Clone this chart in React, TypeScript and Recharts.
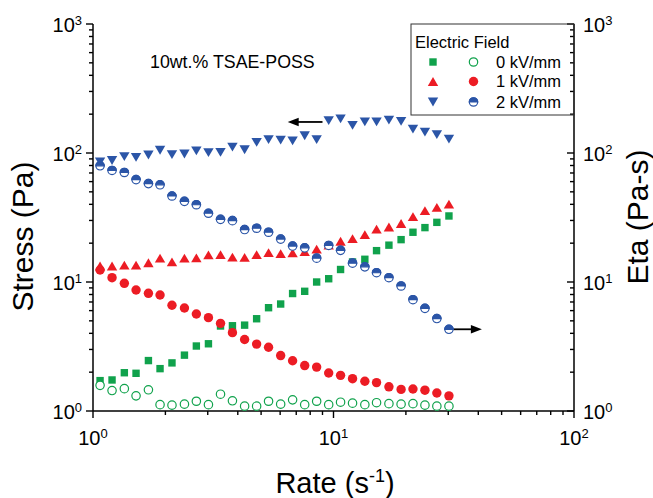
import React from 'react';
import { ScatterChart, Scatter, XAxis, YAxis, ReferenceLine } from 'recharts';

const FONT = "'Liberation Sans', Arial, Helvetica, sans-serif";
const GREEN = '#10a24c';
const RED = '#ec1c24';
const BLUE = '#2b55a7';

// shear rate (s^-1)
const rates = [1.07, 1.2, 1.35, 1.51, 1.7, 1.9, 2.13, 2.4, 2.69, 3.02, 3.39, 3.8, 4.27, 4.79, 5.37, 6.03, 6.76, 7.59, 8.51, 9.55, 10.7, 12.0, 13.5, 15.1, 17.0, 19.1, 21.4, 24.0, 26.9, 30.2];

// 0 kV/mm
const stress0 = [1.72, 1.74, 1.98, 1.96, 2.46, 2.13, 2.36, 2.71, 3.19, 3.32, 4.56, 4.58, 4.63, 5.19, 6.32, 6.75, 8.14, 8.47, 10.0, 10.6, 12.5, 14.3, 15.0, 17.5, 19.3, 21.3, 24.3, 26.4, 29.0, 32.5];
const eta0 = [1.58, 1.44, 1.49, 1.31, 1.46, 1.12, 1.11, 1.13, 1.19, 1.12, 1.35, 1.2, 1.09, 1.09, 1.19, 1.13, 1.22, 1.12, 1.19, 1.12, 1.17, 1.15, 1.12, 1.16, 1.14, 1.13, 1.14, 1.11, 1.09, 1.09];
// 1 kV/mm
const stress1 = [13.3, 13.3, 13.5, 13.5, 14.1, 15.3, 14.3, 15.3, 15.4, 16.2, 16.3, 15.6, 15.5, 16.3, 16.9, 16.6, 16.8, 17.2, 18.0, 19.3, 20.7, 21.7, 23.3, 25.7, 26.7, 28.4, 32.1, 35.7, 37.9, 40.2];
const eta1 = [12.4, 10.8, 9.77, 8.67, 8.17, 7.93, 6.6, 6.29, 5.65, 5.29, 4.78, 4.05, 3.58, 3.3, 3.12, 2.69, 2.45, 2.25, 2.19, 1.97, 1.89, 1.78, 1.7, 1.66, 1.54, 1.47, 1.48, 1.45, 1.38, 1.31];
// 2 kV/mm
const stress2 = [85.2, 87.5, 93.6, 92.6, 96.5, 105, 97.0, 98.2, 104, 100.5, 101, 111, 106, 121, 127, 126, 124, 136, 127, 178, 184, 164, 174, 174, 180, 176, 153, 145, 139, 128];
const eta2 = [79.6, 73.2, 70.6, 62.2, 57.9, 56.7, 46.4, 42.2, 39.7, 34.1, 30.6, 29.9, 25.5, 26.1, 24.3, 21.5, 19.0, 18.4, 15.3, 19.2, 17.6, 14.0, 13.1, 11.8, 10.8, 9.31, 7.29, 6.25, 5.21, 4.3];

const legendLabels = ['0 kV/mm', '1 kV/mm', '2 kV/mm'];
const legendTitle = 'Electric Field';
const annotation = '10wt.% TSAE-POSS';

const xTicks = [1, 2, 3, 4, 5, 6, 7, 8, 9, 10, 20, 30, 40, 50, 60, 70, 80, 90, 100];
const yTicks = [1, 2, 3, 4, 5, 6, 7, 8, 9, 10, 20, 30, 40, 50, 60, 70, 80, 90, 100, 200, 300, 400, 500, 600, 700, 800, 900, 1000];
const majorValues = [1, 10, 100, 1000];
const majorExponents = ['0', '1', '2', '3'];

// arrow annotations (data coordinates)
const arrowStress = { from: 9.0, to: 6.45, y: 174 };
const arrowEta = { from: 30.2, to: 41.4, y: 4.3 };

const toPoints = (ys: number[]) => rates.map((x, i) => ({ x, y: ys[i] }));

const isMajor = (v: number) => majorValues.indexOf(v) >= 0;
const expOf = (v: number) => majorExponents[majorValues.indexOf(v)];

const TICK_W = 1.4;

const LeftTick = (p: any) => {
  const { x, y, payload } = p;
  const v = payload.value;
  const m = isMajor(v);
  return (
    <g>
      <line x1={x} y1={y} x2={x - (m ? 7 : 4)} y2={y} stroke="#000" strokeWidth={TICK_W} />
      {m && (
        <text x={x - 11} y={y + 8} textAnchor="end" fontSize={20} fontFamily={FONT} fill="#000">
          10<tspan dy={-7} fontSize={13}>{expOf(v)}</tspan>
        </text>
      )}
    </g>
  );
};

const RightTick = (p: any) => {
  const { x, y, payload } = p;
  const v = payload.value;
  const m = isMajor(v);
  return (
    <g>
      <line x1={x} y1={y} x2={x - (m ? 7 : 4)} y2={y} stroke="#000" strokeWidth={TICK_W} />
      {m && (
        <text x={x + 9} y={y + 8} textAnchor="start" fontSize={20} fontFamily={FONT} fill="#000">
          10<tspan dy={-7} fontSize={13}>{expOf(v)}</tspan>
        </text>
      )}
    </g>
  );
};

const BottomTick = (p: any) => {
  const { x, y, payload } = p;
  const v = payload.value;
  const m = isMajor(v);
  return (
    <g>
      <line x1={x} y1={y} x2={x} y2={y + (m ? 7 : 4)} stroke="#000" strokeWidth={TICK_W} />
      {m && (
        <text x={x} y={y + 34} textAnchor="middle" fontSize={20} fontFamily={FONT} fill="#000">
          10<tspan dy={-7} fontSize={13}>{expOf(v)}</tspan>
        </text>
      )}
    </g>
  );
};

const TopTick = (p: any) => {
  const { x, y, payload } = p;
  const m = isMajor(payload.value);
  return <line x1={x} y1={y} x2={x} y2={y + (m ? 8 : 5)} stroke="#000" strokeWidth={TICK_W} />;
};

// marker shapes
const Square = ({ cx, cy }: any) => <rect x={cx - 3.7} y={cy - 3.7} width={7.4} height={7.4} fill={GREEN} />;
const OpenCircle = ({ cx, cy }: any) => <circle cx={cx} cy={cy} r={4.2} fill="#fff" stroke={GREEN} strokeWidth={1.2} />;
const UpTri = ({ cx, cy }: any) => (
  <polygon points={`${cx - 5.2},${cy + 4.4} ${cx + 5.2},${cy + 4.4} ${cx},${cy - 4.4}`} fill={RED} />
);
const FilledCircle = ({ cx, cy }: any) => <circle cx={cx} cy={cy} r={4.7} fill={RED} />;
const DownTri = ({ cx, cy }: any) => (
  <polygon points={`${cx - 5.2},${cy - 4.4} ${cx + 5.2},${cy - 4.4} ${cx},${cy + 4.4}`} fill={BLUE} />
);
const HalfCircle = ({ cx, cy }: any) => {
  const r = 4.2;
  return (
    <g>
      <circle cx={cx} cy={cy} r={r} fill="#fff" stroke={BLUE} strokeWidth={1.2} />
      <path d={`M ${cx - r} ${cy} A ${r} ${r} 0 0 1 ${cx + r} ${cy} Z`} fill={BLUE} stroke={BLUE} strokeWidth={1.2} />
    </g>
  );
};

const Arrow = (p: any) => {
  const { x1, y1, x2, y2 } = p;
  const dir = x2 > x1 ? 1 : -1;
  const head = 11;
  return (
    <g>
      <line x1={x1} y1={y1} x2={x2 - dir * head * 0.8} y2={y2} stroke="#000" strokeWidth={1.8} />
      <polygon points={`${x2},${y2} ${x2 - dir * head},${y2 - 4.2} ${x2 - dir * head},${y2 + 4.2}`} fill="#000" />
    </g>
  );
};

const legendRows = [
  { filled: Square, open: OpenCircle, label: legendLabels[0], y: 62 },
  { filled: UpTri, open: FilledCircle, label: legendLabels[1], y: 81.5 },
  { filled: DownTri, open: HalfCircle, label: legendLabels[2], y: 102 },
];

export default function App() {
  const axisLine = { stroke: '#000', strokeWidth: 1.5 };
  return (
    <div style={{ position: 'absolute', left: 0, top: 0, width: 653, height: 498, background: '#fff' }}>
      <ScatterChart width={653} height={498} margin={{ top: 24, right: 0, bottom: 0, left: 0 }}>
        <XAxis
          xAxisId="x"
          dataKey="x"
          type="number"
          scale="log"
          domain={[1, 100]}
          allowDataOverflow
          ticks={xTicks}
          interval={0}
          height={87}
          tickLine={false}
          tickSize={0}
          tickMargin={0}
          axisLine={axisLine}
          tick={<BottomTick />}
        />
        <XAxis
          xAxisId="xt"
          orientation="top"
          dataKey="x"
          type="number"
          scale="log"
          domain={[1, 100]}
          allowDataOverflow
          ticks={xTicks}
          interval={0}
          height={0}
          tickLine={false}
          tickSize={0}
          tickMargin={0}
          axisLine={axisLine}
          tick={<TopTick />}
        />
        <YAxis
          yAxisId="stress"
          dataKey="y"
          type="number"
          scale="log"
          domain={[1, 1000]}
          allowDataOverflow
          ticks={yTicks}
          interval={0}
          width={93}
          tickLine={false}
          tickSize={0}
          tickMargin={0}
          axisLine={axisLine}
          tick={<LeftTick />}
        />
        <YAxis
          yAxisId="eta"
          orientation="right"
          dataKey="y"
          type="number"
          scale="log"
          domain={[1, 1000]}
          allowDataOverflow
          ticks={yTicks}
          interval={0}
          width={79}
          tickLine={false}
          tickSize={0}
          tickMargin={0}
          axisLine={axisLine}
          tick={<RightTick />}
        />
        <Scatter xAxisId="x" yAxisId="stress" data={toPoints(stress0)} shape={(p: any) => <Square {...p} />} isAnimationActive={false} />
        <Scatter xAxisId="x" yAxisId="eta" data={toPoints(eta0)} shape={(p: any) => <OpenCircle {...p} />} isAnimationActive={false} />
        <Scatter xAxisId="x" yAxisId="stress" data={toPoints(stress1)} shape={(p: any) => <UpTri {...p} />} isAnimationActive={false} />
        <Scatter xAxisId="x" yAxisId="eta" data={toPoints(eta1)} shape={(p: any) => <FilledCircle {...p} />} isAnimationActive={false} />
        <Scatter xAxisId="x" yAxisId="stress" data={toPoints(stress2)} shape={(p: any) => <DownTri {...p} />} isAnimationActive={false} />
        <Scatter xAxisId="x" yAxisId="eta" data={toPoints(eta2)} shape={(p: any) => <HalfCircle {...p} />} isAnimationActive={false} />
        <ReferenceLine
          xAxisId="x"
          yAxisId="stress"
          segment={[{ x: arrowStress.from, y: arrowStress.y }, { x: arrowStress.to, y: arrowStress.y }]}
          shape={(p: any) => <Arrow {...p} />}
        />
        <ReferenceLine
          xAxisId="x"
          yAxisId="eta"
          segment={[{ x: arrowEta.from, y: arrowEta.y }, { x: arrowEta.to, y: arrowEta.y }]}
          shape={(p: any) => <Arrow {...p} />}
        />
      </ScatterChart>
      <svg width={653} height={498} style={{ position: 'absolute', left: 0, top: 0, pointerEvents: 'none' }} fontFamily={FONT}>
        <text x={150} y={67.7} fontSize={17.8} fill="#000">{annotation}</text>
        <rect x={411} y={24} width={163} height={91} fill="none" stroke="#333" strokeWidth={1} />
        <text x={415} y={48.3} fontSize={16.5} fill="#000">{legendTitle}</text>
        {legendRows.map((r, i) => {
          const F = r.filled;
          const O = r.open;
          return (
            <g key={i}>
              <F cx={433} cy={r.y} />
              <O cx={473.5} cy={r.y} />
              <text x={496} y={r.y + 5.5} fontSize={16.5} fill="#000">{r.label}</text>
            </g>
          );
        })}
        <text transform="translate(33,236.5) rotate(-90)" textAnchor="middle" fontSize={30} fill="#000">Stress (Pa)</text>
        <text transform="translate(648,217) rotate(-90)" textAnchor="middle" fontSize={30} fill="#000">Eta (Pa-s)</text>
        <text x={335} y={493} textAnchor="middle" fontSize={29} fill="#000">
          Rate (s<tspan dy={-11} fontSize={18}>-1</tspan><tspan dy={11}>)</tspan>
        </text>
      </svg>
    </div>
  );
}
